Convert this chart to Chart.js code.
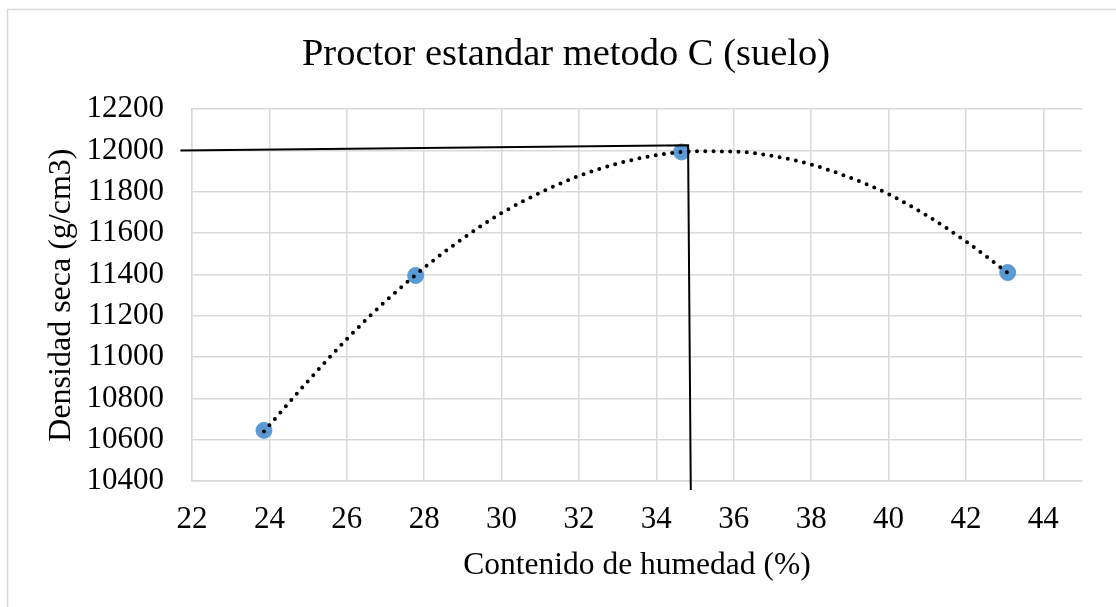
<!DOCTYPE html>
<html lang="es">
<head>
<meta charset="utf-8">
<title>Proctor estandar metodo C (suelo)</title>
<script src="https://cdn.jsdelivr.net/npm/chart.js@4.4.1/dist/chart.umd.min.js"></script>
<style>
  html, body { margin: 0; padding: 0; background: #ffffff; }
  #wrap { position: relative; width: 1116px; height: 607px; }
</style>
</head>
<body>
<div id="wrap"><canvas id="chart"></canvas></div>
<script>
// measured points
const humedad = [23.86, 27.78, 34.65, 43.08];
const densidad = [10645, 11395, 11993, 11409];

// dotted trend curve
const trendX = [23.86, 25, 26, 27, 28, 29, 30, 31, 32, 33, 34, 35, 36, 37, 38, 39, 40, 41, 42, 43.08];
const trendY = [10640, 10884, 11087, 11270, 11432, 11574, 11697, 11796, 11877, 11937, 11977, 11996, 11995, 11974, 11932, 11869, 11789, 11684, 11560, 11408];

// black guide lines (max density / optimum moisture)
const guideX = [21.7, 34.82, 34.89];
const guideY = [12000, 12025, 10356];

const xTicks = [22, 24, 26, 28, 30, 32, 34, 36, 38, 40, 42, 44];
const yTicks = [10400, 10600, 10800, 11000, 11200, 11400, 11600, 11800, 12000, 12200];

const serif = "'Liberation Serif', 'Times New Roman', serif";
const gridColor = "#d9d9d9";

const toPoints = (xs, ys) => xs.map((x, i) => ({ x, y: ys[i] }));

// white background + light frame of the chart object
const chartBorder = {
  id: "chartBorder",
  afterLayout(chart) {
    // the title sits centred on the whole chart object, not on the canvas
    if (chart.titleBlock) chart.titleBlock.left = 50;
  },
  beforeDraw(chart) {
    const { ctx } = chart;
    ctx.save();
    ctx.fillStyle = "#ffffff";
    ctx.fillRect(0, 0, chart.width, chart.height);
    ctx.strokeStyle = gridColor;
    ctx.lineWidth = 1.5;
    ctx.strokeRect(7.5, 9.5, chart.width, chart.height);
    ctx.restore();
  },
};

new Chart(document.getElementById("chart"), {
  type: "scatter",
  data: {
    datasets: [
      {
        label: "Guia",
        data: toPoints(guideX, guideY),
        showLine: true,
        borderColor: "#000000",
        borderWidth: 2,
        pointRadius: 0,
        tension: 0,
        clip: false,
        order: 0,
      },
      {
        label: "Tendencia",
        data: toPoints(trendX, trendY),
        showLine: true,
        borderColor: "#000000",
        borderWidth: 4,
        borderDash: [0, 8.3],
        borderCapStyle: "round",
        pointRadius: 0,
        cubicInterpolationMode: "monotone",
        order: 1,
      },
      {
        label: "Densidad seca",
        data: toPoints(humedad, densidad),
        backgroundColor: "#5b9bd5",
        borderColor: "#5b9bd5",
        pointRadius: 8,
        order: 2,
      },
    ],
  },
  options: {
    responsive: true,
    maintainAspectRatio: false,
    animation: false,
    layout: { padding: { left: 0, right: 34, top: 0, bottom: 0 } },
    plugins: {
      legend: { display: false },
      tooltip: { enabled: false },
      title: {
        display: true,
        text: "Proctor estandar metodo C (suelo)",
        color: "#000000",
        font: { family: serif, size: 38.5, weight: "normal" },
        padding: { top: 32, bottom: 31 },
      },
    },
    scales: {
      x: {
        type: "linear",
        min: 22,
        max: 45,
        afterBuildTicks: (scale) => {
          scale.ticks = xTicks.map((value) => ({ value }));
        },
        afterFit: (scale) => {
          scale.height = 126;
        },
        grid: { color: gridColor, lineWidth: 1.5, drawTicks: false },
        border: { color: gridColor, width: 1.5 },
        ticks: {
          color: "#000000",
          font: { family: serif, size: 31 },
          padding: 20,
          maxRotation: 0,
          autoSkip: false,
          callback: (value) => String(value),
        },
        title: {
          display: true,
          text: "Contenido de humedad (%)",
          color: "#000000",
          font: { family: serif, size: 31.5 },
          padding: { top: 10, bottom: 22 },
        },
      },
      y: {
        type: "linear",
        min: 10400,
        max: 12200,
        afterBuildTicks: (scale) => {
          scale.ticks = yTicks.map((value) => ({ value }));
        },
        afterFit: (scale) => {
          scale.width = 192;
        },
        grid: { color: gridColor, lineWidth: 1.5, drawTicks: false },
        border: { color: gridColor, width: 1.5 },
        ticks: {
          color: "#000000",
          font: { family: serif, size: 31 },
          padding: 28,
          autoSkip: false,
          callback: (value) => String(value),
        },
        title: {
          display: true,
          text: "Densidad seca (g/cm3)",
          color: "#000000",
          font: { family: serif, size: 32 },
          padding: { top: 42, bottom: 8 },
        },
      },
    },
  },
  plugins: [chartBorder],
});
</script>
</body>
</html>
